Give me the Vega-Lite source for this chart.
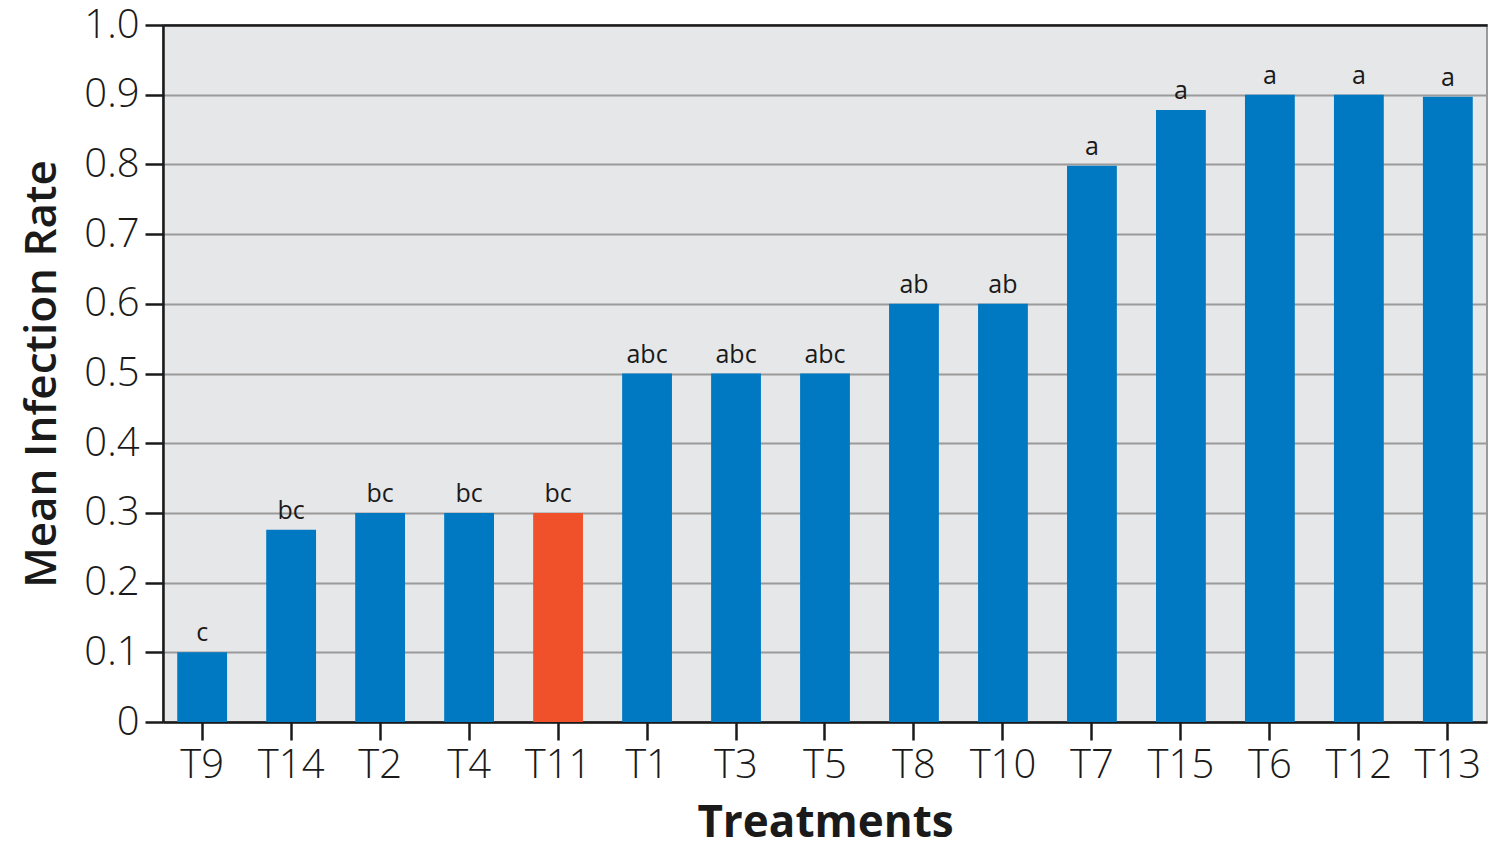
{
  "$schema": "https://vega.github.io/schema/vega-lite/v6.json",
  "autosize": {"type": "none"},
  "width": 1324,
  "height": 697,
  "padding": {"left": 163, "top": 25, "right": 1, "bottom": 126},
  "background": "white",
  "config": {
    "font": "Open Sans",
    "view": {"fill": "#e6e7e9", "stroke": "#9a9a9a", "strokeWidth": 2},
    "axis": {
      "domainColor": "#1a1a1a",
      "domainWidth": 2.5,
      "tickColor": "#1a1a1a",
      "tickWidth": 2.5,
      "tickSize": 18,
      "labelColor": "#1a1a1a",
      "labelFont": "Open Sans",
      "labelFontWeight": 300,
      "labelFontSize": 40,
      "titleColor": "#1a1a1a",
      "titleFont": "Open Sans",
      "titleFontSize": 44
    }
  },
  "data": {
    "values": [
      {"treatment": "T9", "rate": 0.1, "group": "c", "highlight": "no"},
      {"treatment": "T14", "rate": 0.276, "group": "bc", "highlight": "no"},
      {"treatment": "T2", "rate": 0.3, "group": "bc", "highlight": "no"},
      {"treatment": "T4", "rate": 0.3, "group": "bc", "highlight": "no"},
      {"treatment": "T11", "rate": 0.3, "group": "bc", "highlight": "yes"},
      {"treatment": "T1", "rate": 0.5, "group": "abc", "highlight": "no"},
      {"treatment": "T3", "rate": 0.5, "group": "abc", "highlight": "no"},
      {"treatment": "T5", "rate": 0.5, "group": "abc", "highlight": "no"},
      {"treatment": "T8", "rate": 0.6, "group": "ab", "highlight": "no"},
      {"treatment": "T10", "rate": 0.6, "group": "ab", "highlight": "no"},
      {"treatment": "T7", "rate": 0.798, "group": "a", "highlight": "no"},
      {"treatment": "T15", "rate": 0.878, "group": "a", "highlight": "no"},
      {"treatment": "T6", "rate": 0.9, "group": "a", "highlight": "no"},
      {"treatment": "T12", "rate": 0.9, "group": "a", "highlight": "no"},
      {"treatment": "T13", "rate": 0.897, "group": "a", "highlight": "no"}
    ]
  },
  "encoding": {
    "x": {
      "field": "treatment",
      "type": "nominal",
      "sort": null,
      "scale": {"paddingInner": 0.44, "paddingOuter": 0.16},
      "axis": {
        "title": "Treatments",
        "titleFontWeight": "bold",
        "titlePadding": 16,
        "labelAngle": 0,
        "labelPadding": 5,
        "grid": false
      }
    },
    "y": {
      "field": "rate",
      "type": "quantitative",
      "scale": {"domain": [0, 1], "nice": false},
      "axis": {
        "title": "Mean Infection Rate",
        "titleFontWeight": 600,
        "titlePadding": 19,
        "values": [0, 0.1, 0.2, 0.3, 0.4, 0.5, 0.6, 0.7, 0.8, 0.9, 1.0],
        "labelExpr": "datum.value === 0 ? '0' : format(datum.value, '.1f')",
        "labelPadding": 6,
        "grid": true,
        "gridColor": {"condition": {"test": "datum.value === 1", "value": "#1a1a1a"}, "value": "#9a9a9a"},
        "gridWidth": {"condition": {"test": "datum.value === 1", "value": 2.5}, "value": 2}
      }
    }
  },
  "layer": [
    {
      "mark": {"type": "bar"},
      "encoding": {
        "color": {
          "field": "highlight",
          "type": "nominal",
          "scale": {"domain": ["no", "yes"], "range": ["#0079c2", "#f0502a"]},
          "legend": null
        }
      }
    },
    {
      "mark": {"type": "text", "baseline": "bottom", "dy": -6, "fontSize": 25, "color": "#1a1a1a", "font": "Open Sans"},
      "encoding": {"text": {"field": "group"}}
    }
  ]
}
